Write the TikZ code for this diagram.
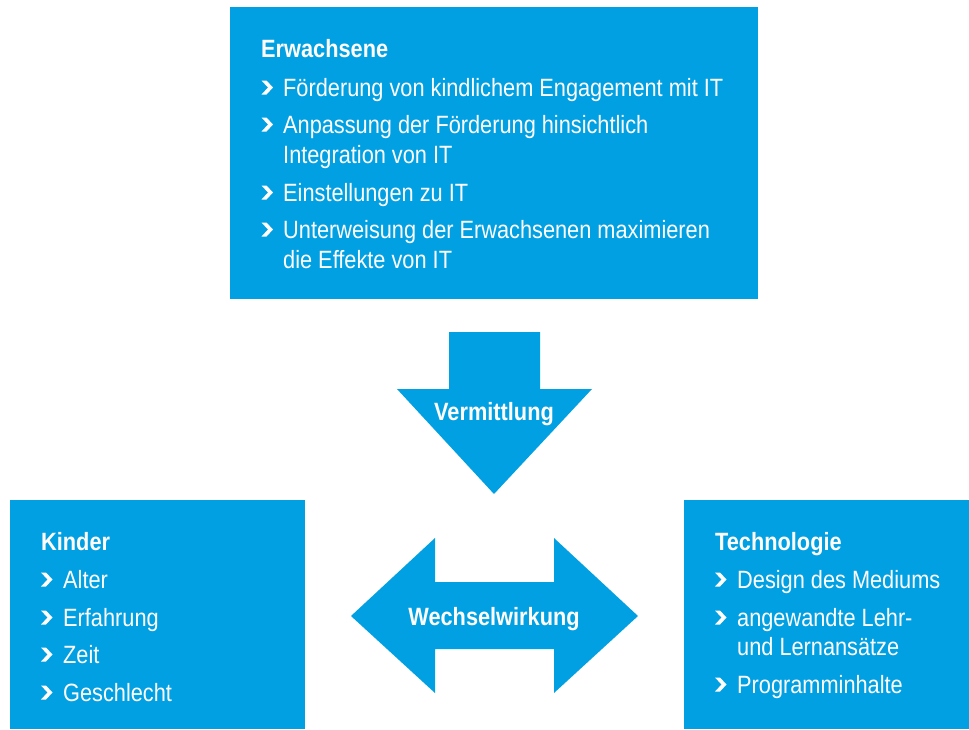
\documentclass[tikz,border=0pt]{standalone}
\usepackage{fontspec}
\setmainfont[FakeStretch=0.87]{Liberation Sans}
\usetikzlibrary{positioning}
\definecolor{itblue}{RGB}{0,160,227}

\begin{document}
\begin{tikzpicture}[
    x=1pt, y=-1pt,
    every node/.style = {
        inner sep=0pt, text=white, font=\fontsize{25pt}{30pt}\selectfont
    },
    box/.style = {fill=itblue, anchor=north west},
    title/.style = {anchor=base west, font=\fontsize{25pt}{30pt}\selectfont\bfseries},
    item/.style = {anchor=base west},
    chev/.pic = {
        \fill[white] (0,-1.5) -- (5,-1.5) -- (11.5,-8.5) -- (5,-15.5)
            -- (0,-15.5) -- (6.5,-8.5) -- cycle;
    },
    arrowlabel/.style = {anchor=base, font=\fontsize{25pt}{30pt}\selectfont\bfseries}
  ]
    \useasboundingbox (0,0) rectangle (969,729);

    % Kasten oben
    \node[box, minimum width=528pt, minimum height=292pt] (erw) at (230,7) {};
    \node[title] (erwT) at (261,57) {Erwachsene};
    \pic (b1) at (261.5,96) {chev};
    \node[item] (e1) at (283,96) {Förderung von kindlichem Engagement mit IT};
    \pic (b2) at (261.5,133) {chev};
    \node[item] (e2) at (283,133) {Anpassung der Förderung hinsichtlich};
    \node[item] (e2b) at (283,163) {Integration von IT};
    \pic (b3) at (261.5,201) {chev};
    \node[item] (e3) at (283,201) {Einstellungen zu IT};
    \pic (b4) at (261.5,238) {chev};
    \node[item] (e4) at (283,238) {Unterweisung der Erwachsenen maximieren};
    \node[item] (e4b) at (283,268) {die Effekte von IT};

    % Pfeil nach unten
    \fill[itblue] (449,332) -- (540,332) -- (540,389) -- (592,389)
        -- (494,494) -- (397,389) -- (449,389) -- cycle;
    \node[arrowlabel] (verm) at (494,420) {Vermittlung};

    % Doppelpfeil
    \fill[itblue] (351,616) -- (435,538) -- (435,582) -- (554,582)
        -- (554,538) -- (638,616) -- (554,693) -- (554,649)
        -- (435,649) -- (435,693) -- cycle;
    \node[arrowlabel] (wech) at (494,625) {Wechselwirkung};

    % Kasten links
    \node[box, minimum width=295pt, minimum height=229pt] (kind) at (10,500) {};
    \node[title] (kindT) at (41,550) {Kinder};
    \pic (k1b) at (41,588) {chev};
    \node[item] (k1) at (63,588) {Alter};
    \pic (k2b) at (41,626) {chev};
    \node[item] (k2) at (63,626) {Erfahrung};
    \pic (k3b) at (41,663) {chev};
    \node[item] (k3) at (63,663) {Zeit};
    \pic (k4b) at (41,701) {chev};
    \node[item] (k4) at (63,701) {Geschlecht};

    % Kasten rechts
    \node[box, minimum width=285pt, minimum height=229pt] (tech) at (684,500) {};
    \node[title] (techT) at (715,550) {Technologie};
    \pic (t1b) at (715,588) {chev};
    \node[item] (t1) at (737,588) {Design des Mediums};
    \pic (t2b) at (715,626) {chev};
    \node[item] (t2) at (737,626) {angewandte Lehr-};
    \node[item] (t2x) at (737,655) {und Lernansätze};
    \pic (t3b) at (715,693) {chev};
    \node[item] (t3) at (737,693) {Programminhalte};
\end{tikzpicture}
\end{document}
